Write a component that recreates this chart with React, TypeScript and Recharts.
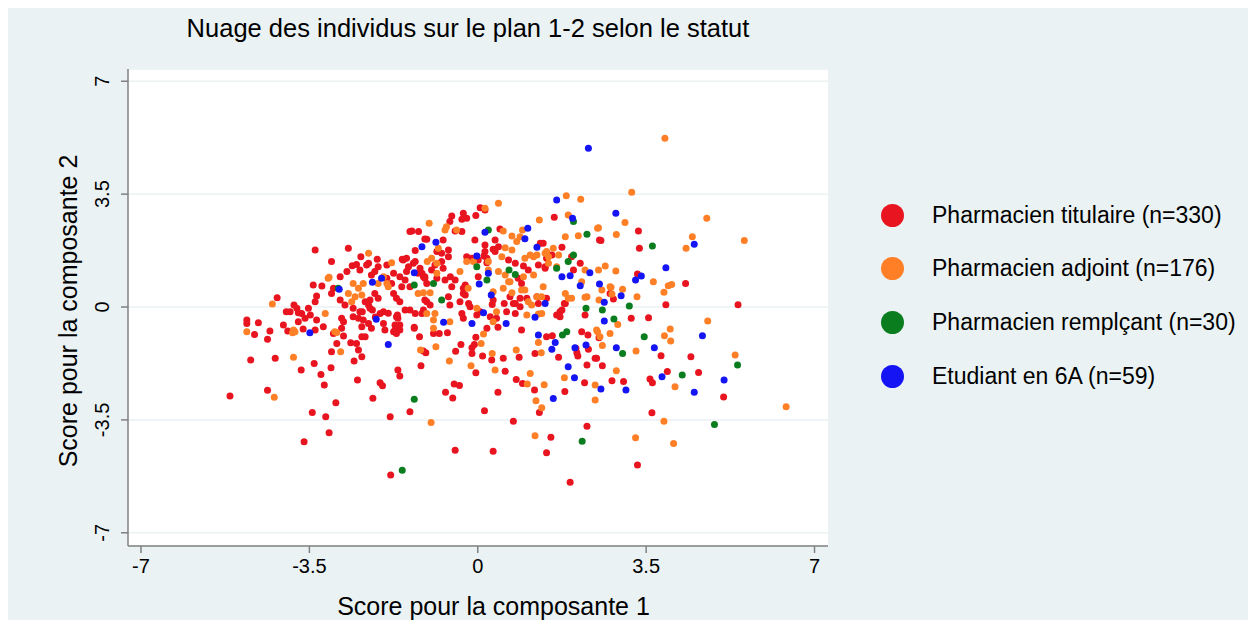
import { ScatterChart, Scatter, XAxis, YAxis, CartesianGrid } from 'recharts';

// individual scores on components 1 (x) and 2 (y)
const titulaire: [number, number][] = [
    [-5.15, -2.76], [-4.8, -0.4], [-4.8, -0.51], [-4.56, -0.49], [-4.64, -0.85], [-4.37, -1.0], [-4.32, -0.74],
    [-4.04, -0.56], [-3.95, -0.74], [-3.63, -0.68], [-4.72, -1.64], [-4.21, -1.59], [-3.4, -1.75], [-3.67, -1.95],
    [-3.05, -1.88], [-3.26, -2.09], [-3.19, -2.42], [-4.37, -2.58], [-3.44, -3.27], [-3.16, -3.4], [-3.09, -3.9],
    [-3.61, -4.18], [-2.95, -2.97], [-2.57, -1.67], [-2.5, -2.26], [-2.03, -2.35], [-1.98, -2.44], [-2.18, -2.83],
    [-1.82, -3.4], [-1.81, -5.21], [-1.41, -3.25], [-1.66, -1.95], [-1.62, -2.14],
    [-0.47, -4.44], [0.32, -4.47], [1.92, -5.43], [3.32, -4.9], [1.43, -4.52], [1.52, -4.04], [2.27, -3.7],
    [0.74, -3.54], [0.14, -3.22], [1.28, -3.27], [1.81, -2.62], [0.42, -2.64], [-0.67, -2.64], [-0.52, -2.82],
    [-0.49, -2.39], [-0.38, -2.43], [0.8, -2.25], [0.93, -2.37], [1.18, -2.57], [0.57, -1.99], [-0.04, -2.04],
    [-1.18, -1.82], [0.1, -1.52], [0.29, -1.64], [0.53, -1.59], [0.86, -1.56], [-0.12, -1.44], [-0.46, -1.37],
    [-1.08, -1.42], [-1.13, -1.36], [-1.21, -0.92], [-1.32, -0.63], [-0.92, -0.82], [-0.8, -0.82], [-0.63, -0.8],
    [-0.35, -1.16], [-0.12, -1.26], [-0.07, -1.16], [-0.04, -0.94], [0.19, -0.66], [0.42, -0.63], [0.91, -0.71],
    [1.43, -0.92], [1.55, -0.89], [1.19, -1.44], [1.68, -1.56], [2.22, -2.35], [2.04, -1.28], [2.08, -1.52],
    [2.06, -1.42], [2.3, -1.31], [2.16, -0.77], [2.29, -0.87], [2.27, -1.8], [2.44, -1.59],
    [3.19, -0.35], [3.55, -0.33], [2.52, -0.95], [3.81, -1.51], [4.43, -1.54], [2.47, -1.59], [2.59, -1.82],
    [2.79, -2.29], [3.03, -2.31], [3.58, -2.23], [3.63, -2.35], [3.94, -2.0], [4.59, -2.03], [5.11, -2.79],
    [3.62, -3.28], [3.34, 2.36], [2.56, 2.06], [3.36, 1.82], [3.32, 1.02], [4.32, 0.73], [2.75, 0.42], [2.82, 0.25],
    [3.91, 0.07], [5.41, 0.07],
    [0.05, 3.08], [0.15, 3.01], [-0.04, 2.84], [-0.3, 2.91], [-0.23, 2.75], [-0.33, 2.72], [-0.58, 2.65],
    [-0.54, 2.82], [-0.47, 2.36], [-0.33, 2.34], [-1.37, 2.36], [-1.23, 2.34], [-1.06, 2.1], [-0.72, 2.08],
    [-1.3, 1.75], [-1.48, 1.51], [-0.85, 1.72], [-0.61, 1.56], [-0.06, 2.08], [0.46, 2.42], [0.36, 2.08],
    [0.15, 1.92], [0.32, 1.79], [1.3, 1.98], [1.75, 1.85], [1.59, 2.78], [2.53, 2.08], [-1.3, 1.41], [-1.2, 1.2],
    [-1.44, 1.25], [-1.16, 1.05], [-1.1, 0.94], [-0.96, 1.15], [-0.89, 1.3], [-0.68, 0.84], [-0.57, 0.94],
    [-0.12, 1.51], [-0.23, 1.56], [0.15, 1.72], [0.01, 1.46], [0.13, 1.58], [0.19, 1.37], [0.01, 0.94],
    [0.64, 1.46], [0.78, 1.36], [0.95, 1.27], [1.43, 1.51], [1.54, 1.61], [1.4, 1.25], [1.95, 1.56], [1.99, 1.15],
    [2.13, 1.36], [1.8, 0.11], [0.84, 0.89], [0.91, 0.73], [0.88, 0.27], [0.74, 0.11], [0.3, 0.08], [0.55, 0.11],
    [-0.26, 0.68], [-0.3, 0.42], [-0.19, 0.11], [-0.54, 0.63], [-0.61, 0.32],
    [-3.38, 1.77], [-2.69, 1.82], [-3.04, 1.41], [-2.43, 1.56], [-2.09, 1.48], [-1.57, 1.48], [-1.41, 2.34],
    [-3.42, 0.68], [-3.24, 0.65], [-4.17, 0.29], [-3.82, 0.06], [-2.61, 1.28], [-2.52, 1.32], [-2.27, 1.36],
    [-2.07, 1.25], [-1.89, 1.3], [-1.34, 1.36], [-1.1, 2.11], [-1.24, 1.05], [-1.13, 0.94], [-1.06, 0.73],
    [-1.58, 0.63], [-1.41, 0.63], [-1.75, 1.05], [-1.62, 0.94], [-1.89, 0.89], [-1.79, 0.73], [-1.75, 0.42],
    [-1.69, 0.27], [-1.62, 0.16], [-1.51, -0.09], [-1.41, -0.09], [-1.69, -0.3], [-1.62, -0.56], [-1.72, -0.71],
    [-1.3, -0.2], [-1.13, -0.09], [-1.06, 0.16], [-1.32, -0.66],
    [-3.0, 0.58], [-3.04, 0.42], [-2.86, 0.22], [-2.76, 0.06], [-2.59, -0.04], [-2.45, -0.15], [-2.48, -0.35],
    [-2.59, -0.3], [-2.38, -0.4], [-2.24, -0.04], [-2.24, 0.22], [-2.07, 0.27], [-2.14, 0.42], [-2.86, 0.94],
    [-2.72, 1.1], [-2.45, 1.15], [-2.31, 1.3], [-2.21, 0.99], [-2.14, 1.1], [-2.34, 0.16], [-2.27, 0.06],
    [-2.27, -0.51], [-2.21, -0.66], [-2.41, -0.61], [-2.03, -0.2], [-1.96, -0.15], [-2.83, -0.35], [-2.79, -0.46],
    [-3.35, 0.34], [-3.38, 0.16], [-3.52, -0.04], [-3.76, -0.04], [-3.66, -0.2], [-3.48, -0.25], [-3.35, -0.4],
    [-3.59, -0.35], [-3.73, -0.46], [-3.9, -0.15], [-3.38, -0.71], [-3.21, -0.61], [-2.83, -0.66], [-3.0, -0.82],
    [-2.79, -0.9], [-1.69, -0.82], [-2.93, -1.13], [-2.64, -1.11], [-3.04, -1.39], [-2.41, -1.54], [-2.48, -1.33],
    [-2.52, -1.13], [-2.41, -0.92], [-2.34, -0.92], [-1.93, -0.71], [-1.96, -0.51], [-1.75, -0.77], [-1.62, -0.71],
    [-1.72, -0.56], [-1.66, -0.35], [-3.98, -0.15], [-3.73, -0.18], [-2.4, -0.15], [-2.19, -0.09], [-2.13, -0.31],
    [-1.86, -0.19], [-1.67, -0.25],
    [-1.16, -0.2], [-0.33, -0.2], [-0.3, -0.35], [-0.02, -0.25], [0.26, -0.3], [0.39, -0.35], [0.6, -0.15],
    [0.78, -0.2], [1.64, -0.25], [1.71, -0.15], [2.23, -0.25], [-0.61, 1.77], [-0.75, 1.67], [-0.75, 1.41],
    [-0.72, 1.2], [-1.55, 1.46], [-1.48, 1.1], [-1.51, 0.84], [-1.1, 0.89], [-0.85, 0.89], [-1.1, 0.22],
    [-0.99, 0.06], [-0.58, 0.06], [-0.37, 0.16], [-0.16, 0.01], [0.05, -0.15], [-0.47, 0.84], [-0.3, 0.58],
    [-0.26, 0.37], [0.43, 1.87], [0.36, 1.72], [0.19, 1.51], [1.05, 1.15], [1.26, 1.3], [1.4, 1.2], [1.36, 1.98],
    [1.02, 0.27], [1.23, 0.32], [1.43, 0.27], [1.26, 0.11], [0.32, 0.22], [0.67, 0.32], [0.78, 0.11], [0.88, 0.01],
    [1.82, 0.11], [1.75, -0.09], [1.71, -0.3],
];

const adjoint: [number, number][] = [
    [3.89, 5.23], [3.2, 3.56], [3.06, 2.62], [2.51, 2.46], [2.88, 2.25], [4.76, 2.75], [4.46, 2.18], [4.33, 1.82],
    [5.54, 2.06], [2.65, 1.27], [2.87, 1.12], [3.65, 0.78], [4.03, 0.7], [3.96, 0.66], [2.77, 0.61], [2.58, 0.53],
    [3.01, 0.55], [3.31, 0.32], [3.87, 0.46], [2.52, 0.22],
    [2.91, -0.54], [4.78, -0.43], [2.75, -0.82], [2.49, -0.77], [2.59, -1.19], [3.88, -0.89], [4.0, -0.68],
    [4.01, -1.05], [3.29, -1.36], [5.35, -1.49], [2.88, -1.98], [4.1, -2.47], [6.41, -3.09], [3.87, -3.54],
    [3.28, -4.05], [4.07, -4.23], [2.44, -2.88],
    [1.84, 3.45], [2.14, 3.34], [0.43, 3.22], [0.15, 3.06], [-1.01, 2.6], [-0.68, 2.39], [-0.65, 2.49],
    [-0.44, 2.39], [-0.82, 1.82], [-0.96, 1.51], [0.53, 2.36], [0.71, 2.2], [0.88, 2.18], [0.93, 2.39],
    [0.81, 2.03], [0.57, 1.84], [1.57, 1.82], [1.82, 2.18], [1.28, 2.7], [1.88, 2.85], [2.09, 2.21], [2.49, 2.44],
    [-0.23, 1.41], [0.22, 1.15], [0.43, 1.1], [0.57, 0.99], [0.98, 1.51], [1.09, 1.61], [1.16, 1.56], [1.47, 1.36],
    [1.64, 1.25], [2.23, 1.15], [2.51, 1.15], [2.27, 0.32], [1.82, 0.42], [1.88, 0.27], [0.91, 0.53], [1.23, 0.32],
    [1.05, 0.16], [1.12, 0.06], [0.64, 0.78], [0.71, 0.44], [0.39, -0.15], [-0.02, -0.04], [-1.24, 0.42],
    [-1.13, 0.44], [-0.99, 0.44],
    [-2.27, 1.67], [-1.79, 1.37], [-3.09, 0.92], [-4.27, 0.09], [-1.05, 1.41], [-0.85, 1.05], [-0.85, 1.36],
    [-2.59, 0.73], [-2.48, 0.58], [-2.38, 0.73], [-2.69, 0.42], [-2.55, 0.32], [-2.41, 0.37], [-2.62, 0.16],
    [-3.11, 0.89], [-2.07, 0.73], [-1.89, 0.73], [-1.86, 0.63], [-1.96, 0.94], [-1.06, -0.2], [-0.92, -0.4],
    [-0.89, -0.2], [-3.17, -0.2], [-3.83, -0.71], [-2.97, -0.77], [-4.8, -0.77], [-3.85, -0.8], [-3.8, -0.77],
    [-2.93, -0.79], [-2.85, -1.39], [-3.83, -1.56], [-4.23, -2.8], [-0.92, -0.66],
    [1.02, -0.25], [1.26, -0.22], [1.26, -1.1], [1.32, -1.42], [0.8, -1.33], [0.3, -1.44], [-1.19, -1.33],
    [-0.87, -1.23], [0.07, -1.13], [0.12, -0.84], [0.32, -0.46], [-0.59, -1.67], [-0.14, -1.82], [0.36, -1.95],
    [1.09, -2.06], [1.38, -2.41], [1.03, -2.39], [1.8, -2.19], [2.44, -2.42], [1.19, -3.99], [1.33, -3.12],
    [1.21, -2.91], [-0.97, -3.58], [-0.58, -0.46],
    [1.68, 1.61], [1.4, 1.67], [1.47, 1.56], [2.16, 0.78], [2.75, 0.63], [2.79, 0.4], [2.23, 0.3], [1.95, 0.27],
    [2.47, -0.71], [2.54, -0.92], [1.33, 0.32], [1.33, -0.2],
    [-0.09, 1.41], [0.22, 1.41], [0.5, 1.56], [0.71, 1.77], [0.67, 0.78], [0.95, 0.94], [0.98, 0.53], [1.16, 0.99],
    [1.36, 0.63], [0.32, 0.47], [0.53, 0.58], [-0.2, 0.58], [-0.37, 1.1], [1.23, 1.61], [1.43, 1.72],
];

const remplacant: [number, number][] = [
    [3.63, 1.89], [3.15, 0.03], [2.59, -0.09], [2.83, -0.37], [3.46, -0.92], [3.01, -1.44], [5.4, -1.8],
    [4.25, -2.11], [4.92, -3.64], [2.17, -4.16], [-1.32, -2.86], [-1.57, -5.06], [0.22, 2.39], [1.99, 2.65],
    [2.27, 2.26], [-0.02, 1.25], [0.19, 0.84], [0.65, 1.15], [0.78, 1.01], [1.88, 1.41], [1.99, 1.61], [1.64, 1.2],
    [2.25, -0.04], [1.76, -0.87], [1.85, -0.77], [-0.92, 0.73], [-1.32, 0.68], [-0.75, 0.22], [-2.9, 0.58],
];

const etudiant: [number, number][] = [
    [2.3, 4.92], [1.64, 3.32], [2.87, 2.91], [4.5, 1.95], [3.91, 1.22], [3.4, 0.96], [3.28, 0.84], [2.53, 0.71],
    [2.98, 0.35], [2.63, 0.15], [2.63, -0.43], [4.67, -0.89], [2.88, -1.26], [3.67, -1.26], [3.83, -2.16],
    [3.08, -2.57], [2.56, -2.54], [4.5, -2.64], [5.12, -2.26], [1.04, 2.44], [0.98, 2.12], [0.15, 2.32],
    [-1.16, 1.87], [-0.87, 2.01], [1.97, 2.75], [1.23, 1.85], [-0.02, 1.58], [0.22, 1.05], [0.03, 0.71],
    [1.75, 0.94], [1.92, 0.97], [2.33, 1.06], [2.13, 0.66], [1.4, 0.11], [0.28, 0.37], [0.12, -0.18],
    [-1.32, 1.06], [-2.88, 0.55], [-2.19, 0.77], [-2.0, 0.89], [-3.49, -0.8], [-2.11, -0.38], [-1.86, -1.16],
    [-0.71, -0.47], [-0.12, -0.51], [0.59, -0.51], [1.19, -0.32], [1.26, -0.87], [1.61, -1.1], [1.54, -1.31],
    [1.88, -1.85], [2.01, -2.19], [2.02, -1.26], [2.25, -1.18], [1.57, -2.84],
];

const axisTicks = [-7, -3.5, 0, 3.5, 7];

const series = [
    { name: 'Pharmacien titulaire (n=330)', color: '#e8141f', points: titulaire },
    { name: 'Pharmacien adjoint (n=176)', color: '#ff7f27', points: adjoint },
    { name: 'Pharmacien remplçant (n=30)', color: '#0a7d1f', points: remplacant },
    { name: 'Etudiant en 6A (n=59)', color: '#1414f5', points: etudiant },
];

const FONT = '"Liberation Sans", Arial, sans-serif';

const fmt = (v: number) => String(v);

function YTick({ x, y, payload }: any) {
    return (
        <text
            transform={`translate(${x - 10}, ${y}) rotate(-90)`}
            textAnchor="middle"
            fontSize={20}
            fontFamily={FONT}
            fill="#000"
        >
            {fmt(payload.value)}
        </text>
    );
}

function Dot(color: string) {
    return (props: any) => <circle cx={props.cx} cy={props.cy} r={3.5} fill={color} />;
}

export default function App() {
    return (
        <div style={{ position: 'relative', width: 1240, height: 612, background: '#eaf2f3', fontFamily: FONT }}>
            <div style={{ position: 'absolute', left: 0, width: 920, top: 6, textAlign: 'center', fontSize: 25.5, color: '#000' }}>
                Nuage des individus sur le plan 1-2 selon le statut
            </div>
            <ScatterChart width={1240} height={612} margin={{ top: 61, right: 420, bottom: 0, left: 0 }}>
                <CartesianGrid vertical={false} stroke="#eaf2f3" strokeWidth={1.5} fill="#ffffff" />
                <XAxis
                    type="number"
                    dataKey="x"
                    domain={[-7.27, 7.28]}
                    ticks={axisTicks}
                    allowDataOverflow
                    height={74}
                    tickSize={7}
                    tickMargin={6}
                    axisLine={{ stroke: '#808080', strokeWidth: 1.5 }}
                    tickLine={{ stroke: '#808080', strokeWidth: 1.5 }}
                    tick={{ fill: '#000', fontSize: 20, fontFamily: FONT }}
                    tickFormatter={fmt}
                />
                <YAxis
                    type="number"
                    dataKey="y"
                    domain={[-7.41, 7.38]}
                    ticks={axisTicks}
                    allowDataOverflow
                    width={120}
                    tickSize={7}
                    axisLine={{ stroke: '#808080', strokeWidth: 1.5 }}
                    tickLine={{ stroke: '#808080', strokeWidth: 1.5 }}
                    tick={<YTick />}
                />
                {series.map((s) => (
                    <Scatter
                        key={s.name}
                        name={s.name}
                        data={s.points.map(([x, y]) => ({ x, y }))}
                        fill={s.color}
                        shape={Dot(s.color)}
                        isAnimationActive={false}
                    />
                ))}
            </ScatterChart>
            <div
                style={{
                    position: 'absolute',
                    left: 60,
                    top: 303,
                    transform: 'translate(-50%, -50%) rotate(-90deg)',
                    whiteSpace: 'nowrap',
                    fontSize: 25,
                    color: '#000',
                }}
            >
                Score pour la composante 2
            </div>
            <div style={{ position: 'absolute', left: 0, width: 971, top: 584, textAlign: 'center', fontSize: 25, color: '#000' }}>
                Score pour la composante 1
            </div>
            {series.map((s, i) => (
                <div
                    key={s.name}
                    style={{ position: 'absolute', left: 873, top: 193 + i * 53.8, height: 28, display: 'flex', alignItems: 'center' }}
                >
                    <span style={{ width: 23, height: 23, borderRadius: '50%', background: s.color, marginRight: 28 }} />
                    <span style={{ fontSize: 23, color: '#000', whiteSpace: 'nowrap' }}>{s.name}</span>
                </div>
            ))}
        </div>
    );
}
